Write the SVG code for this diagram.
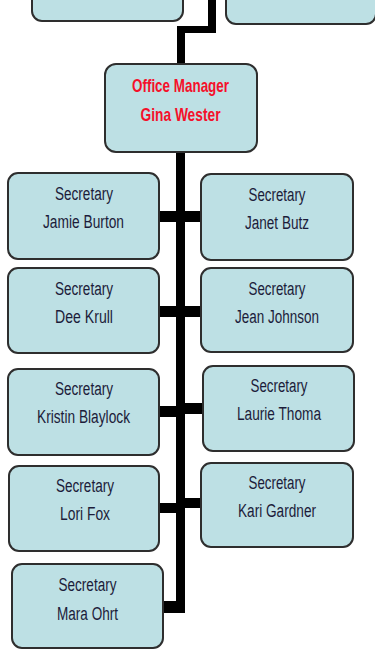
<svg xmlns="http://www.w3.org/2000/svg" width="375" height="650" viewBox="0 0 375 650">
<style>
.box{fill:#bde0e4;stroke:#2e2e2e;stroke-width:2}
.t{font-family:"Liberation Sans",Arial,sans-serif;font-size:18px;fill:#1c1c3a;text-anchor:middle}
.r{font-family:"Liberation Sans",Arial,sans-serif;font-size:19px;font-weight:bold;fill:#f5102a;text-anchor:middle}
.c{fill:#000}
</style>
<rect width="375" height="650" fill="#fff"/>
<g id="connectors">
<rect class="c" x="208" y="0" width="8" height="33"/>
<rect class="c" x="177" y="26" width="39" height="7"/>
<rect class="c" x="177" y="26" width="8" height="40"/>
<rect class="c" x="176" y="150" width="9" height="463"/>
<rect class="c" x="158" y="211" width="44" height="11"/>
<rect class="c" x="158" y="306" width="44" height="11"/>
<rect class="c" x="158" y="406" width="20" height="11"/>
<rect class="c" x="183" y="403" width="21" height="11"/>
<rect class="c" x="158" y="503" width="20" height="10"/>
<rect class="c" x="183" y="498" width="19" height="10"/>
<rect class="c" x="162" y="601" width="23" height="12"/>
</g>
<g id="top-left"><rect class="box" x="32" y="-70" width="151" height="91" rx="10"/></g>
<g id="top-right"><rect class="box" x="226" y="-70" width="150" height="94" rx="10"/></g>
<g id="office-manager">
<rect class="box" x="105" y="64" width="152" height="88" rx="11"/>
<text class="r" x="180.5" y="92" textLength="97" lengthAdjust="spacingAndGlyphs">Office Manager</text>
<text class="r" x="180.5" y="121" textLength="80" lengthAdjust="spacingAndGlyphs">Gina Wester</text>
</g>
<g id="jamie-burton">
<rect class="box" x="8" y="173" width="151" height="86" rx="10"/>
<text class="t" x="84" y="200" textLength="58" lengthAdjust="spacingAndGlyphs">Secretary</text>
<text class="t" x="83.5" y="228" textLength="81" lengthAdjust="spacingAndGlyphs">Jamie Burton</text>
</g>
<g id="janet-butz">
<rect class="box" x="201" y="174" width="152" height="86" rx="10"/>
<text class="t" x="277" y="201" textLength="57" lengthAdjust="spacingAndGlyphs">Secretary</text>
<text class="t" x="277" y="229" textLength="64" lengthAdjust="spacingAndGlyphs">Janet Butz</text>
</g>
<g id="dee-krull">
<rect class="box" x="8" y="268" width="151" height="85" rx="10"/>
<text class="t" x="84" y="295" textLength="58" lengthAdjust="spacingAndGlyphs">Secretary</text>
<text class="t" x="84" y="323" textLength="58" lengthAdjust="spacingAndGlyphs">Dee Krull</text>
</g>
<g id="jean-johnson">
<rect class="box" x="201" y="268" width="152" height="84" rx="10"/>
<text class="t" x="277" y="295" textLength="57" lengthAdjust="spacingAndGlyphs">Secretary</text>
<text class="t" x="277" y="323" textLength="84" lengthAdjust="spacingAndGlyphs">Jean Johnson</text>
</g>
<g id="kristin-blaylock">
<rect class="box" x="8" y="369" width="151" height="86" rx="10"/>
<text class="t" x="84" y="395" textLength="58" lengthAdjust="spacingAndGlyphs">Secretary</text>
<text class="t" x="83.5" y="423" textLength="93" lengthAdjust="spacingAndGlyphs">Kristin Blaylock</text>
</g>
<g id="laurie-thoma">
<rect class="box" x="203" y="366" width="151" height="85" rx="10"/>
<text class="t" x="279" y="392" textLength="57" lengthAdjust="spacingAndGlyphs">Secretary</text>
<text class="t" x="279" y="420" textLength="84" lengthAdjust="spacingAndGlyphs">Laurie Thoma</text>
</g>
<g id="lori-fox">
<rect class="box" x="9" y="466" width="150" height="85" rx="10"/>
<text class="t" x="85" y="492" textLength="58" lengthAdjust="spacingAndGlyphs">Secretary</text>
<text class="t" x="85" y="520" textLength="50" lengthAdjust="spacingAndGlyphs">Lori Fox</text>
</g>
<g id="kari-gardner">
<rect class="box" x="201" y="463" width="152" height="84" rx="10"/>
<text class="t" x="277" y="489" textLength="57" lengthAdjust="spacingAndGlyphs">Secretary</text>
<text class="t" x="277" y="517" textLength="78" lengthAdjust="spacingAndGlyphs">Kari Gardner</text>
</g>
<g id="mara-ohrt">
<rect class="box" x="12" y="564" width="151" height="84" rx="10"/>
<text class="t" x="87.5" y="591" textLength="58" lengthAdjust="spacingAndGlyphs">Secretary</text>
<text class="t" x="87.5" y="620" textLength="61" lengthAdjust="spacingAndGlyphs">Mara Ohrt</text>
</g>
</svg>
